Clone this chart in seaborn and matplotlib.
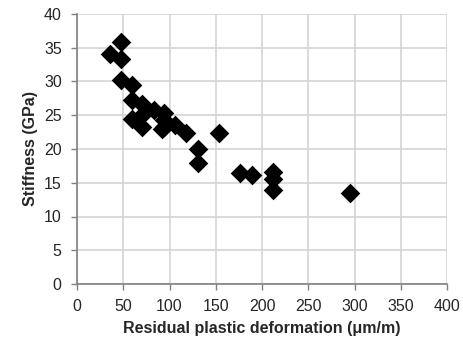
import matplotlib
matplotlib.use("Agg")
import matplotlib.pyplot as plt
import seaborn as sns
import pandas as pd

residual = [36, 48, 48, 48, 59, 59, 59, 70, 70, 70, 83, 94, 94, 94, 92, 106, 118, 131, 131, 154, 176, 189, 212, 212, 212, 295]
stiffness = [34.0, 35.8, 33.4, 30.2, 29.5, 27.2, 24.5, 26.7, 25.0, 23.3, 25.8, 25.3, 24.3, 23.3, 22.9, 23.5, 22.4, 20.0, 17.9, 22.4, 16.4, 16.2, 16.6, 15.6, 13.9, 13.5]
x_ticks = [0, 50, 100, 150, 200, 250, 300, 350, 400]
y_ticks = [0, 5, 10, 15, 20, 25, 30, 35, 40]

df = pd.DataFrame({"x": residual, "y": stiffness})

sns.set_style("white")
plt.rcParams['font.family'] = ['Liberation Sans', 'DejaVu Sans']

fig = plt.figure(figsize=(4.63, 3.45), dpi=100)
ax = fig.add_axes([77/463, 1-284/345, 370/463, 270/345])

sns.scatterplot(data=df, x="x", y="y", marker="D", s=100, color="black",
                edgecolor="black", linewidth=0, ax=ax, zorder=3)

ax.set_xlim(0, 400)
ax.set_ylim(0, 40)
ax.set_xticks(x_ticks)
ax.set_yticks(y_ticks)
ax.grid(True, color="#d4d4d4", linewidth=1.2, zorder=0)
ax.set_axisbelow(True)
for s in ["top", "right"]:
    ax.spines[s].set_visible(False)
for s in ["left", "bottom"]:
    ax.spines[s].set_color("#808080")
    ax.spines[s].set_linewidth(1.2)
ax.tick_params(axis="both", which="major", labelsize=11.5, length=4, color="#808080",
               width=1, direction="out", left=True, bottom=True, pad=7)
ax.set_xlabel("Residual plastic deformation (\u03bcm/m)", fontsize=11.5, fontweight="bold", labelpad=5)
ax.set_ylabel("Stiffness (GPa)", fontsize=11.5, fontweight="bold", labelpad=4)

fig.savefig("out.png", dpi=100)
